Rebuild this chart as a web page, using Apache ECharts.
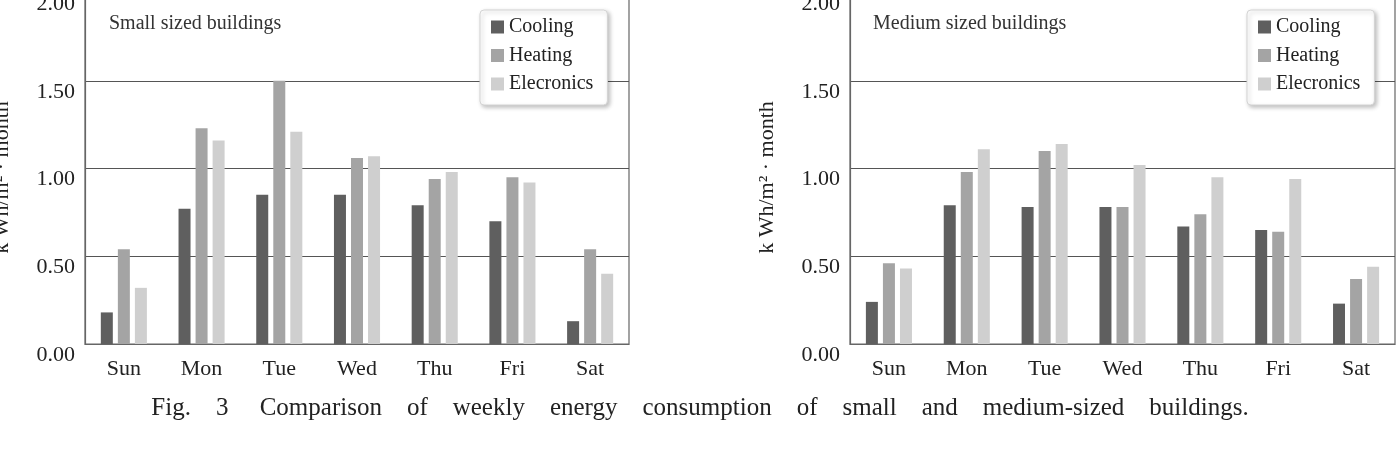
<!DOCTYPE html>
<html>
<head>
<meta charset="utf-8">
<script src="https://cdn.jsdelivr.net/npm/echarts@6/dist/echarts.min.js"></script>
<style>
  html, body { margin: 0; padding: 0; background: #fff; }
  #chart-div { width: 1400px; height: 468px; }
</style>
</head>
<body>
<div id="chart-div"></div>
<script>
// päivät ja sarjat
const days = ['Sun', 'Mon', 'Tue', 'Wed', 'Thu', 'Fri', 'Sat']
const seriesNames = ['Cooling', 'Heating', 'Elecronics']
const yTicks = [0, 0.5, 1.0, 1.5, 2.0]

// pienet rakennukset
const smallCooling = [0.18, 0.77, 0.85, 0.85, 0.79, 0.70, 0.13]
const smallHeating = [0.54, 1.23, 1.50, 1.06, 0.94, 0.95, 0.54]
const smallElectronics = [0.32, 1.16, 1.21, 1.07, 0.98, 0.92, 0.40]

// keskikokoiset rakennukset
const mediumCooling = [0.24, 0.79, 0.78, 0.78, 0.67, 0.65, 0.23]
const mediumHeating = [0.46, 0.98, 1.10, 0.78, 0.74, 0.64, 0.37]
const mediumElectronics = [0.43, 1.11, 1.14, 1.02, 0.95, 0.94, 0.44]

const colors = ['#5f5f5f', '#a4a4a4', '#cfcfcf']
const serif = '"Liberation Serif", "DejaVu Serif", serif'
const yName = 'k Wh/m² · month'

let myChart = echarts.init(document.getElementById('chart-div'))

function xAxisFor(gridIndex) {
    return {
        type: 'category',
        gridIndex: gridIndex,
        data: days,
        axisTick: { show: false },
        axisLine: { lineStyle: { color: '#666', width: 1.2 } },
        axisLabel: { color: '#222', fontFamily: serif, fontSize: 22, margin: 14 }
    }
}

function yAxisFor(gridIndex) {
    return {
        type: 'value',
        gridIndex: gridIndex,
        min: yTicks[0],
        max: yTicks[yTicks.length - 1],
        interval: 0.5,
        name: yName,
        nameLocation: 'middle',
        nameGap: 72,
        nameTextStyle: { color: '#222', fontFamily: serif, fontSize: 22, padding: [0, 18, 0, 0] },
        axisLine: { show: true, lineStyle: { color: '#666', width: 1.2 } },
        axisTick: { show: false },
        splitLine: { lineStyle: { color: '#555', width: 1.2 } },
        axisLabel: {
            color: '#222', fontFamily: serif, fontSize: 22, margin: 10,
            verticalAlign: 'top',
            formatter: v => v.toFixed(2)
        }
    }
}

function barSeries(name, data, idx, axisIdx) {
    return {
        name: name,
        type: 'bar',
        xAxisIndex: axisIdx,
        yAxisIndex: axisIdx,
        data: data,
        barWidth: 12,
        barGap: '42%',
        itemStyle: { color: colors[idx] }
    }
}

function legendAt(left) {
    return {
        data: seriesNames,
        orient: 'vertical',
        left: left,
        top: 10,
        padding: [7, 14, 11, 11],
        itemGap: 8.5,
        itemWidth: 13,
        itemHeight: 13,
        icon: 'rect',
        backgroundColor: '#fff',
        borderColor: '#d4d4d4',
        borderWidth: 1,
        borderRadius: 4,
        shadowBlur: 4,
        shadowColor: 'rgba(0,0,0,0.25)',
        shadowOffsetX: 2,
        shadowOffsetY: 2,
        textStyle: { color: '#222', fontFamily: serif, fontSize: 20 }
    }
}

const caption = ['Fig.', '3 ', 'Comparison', 'of', 'weekly', 'energy', 'consumption',
    'of', 'small', 'and', 'medium-sized', 'buildings.'].join('    ')

const option = {
    backgroundColor: '#fff',
    animation: false,
    title: [
        { text: 'Small sized buildings', left: 104, top: 9,
          textStyle: { color: '#333', fontFamily: serif, fontSize: 20, fontWeight: 'normal' } },
        { text: 'Medium sized buildings', left: 868, top: 9,
          textStyle: { color: '#333', fontFamily: serif, fontSize: 20, fontWeight: 'normal' } }
    ],
    legend: [legendAt(480), legendAt(1247)],
    grid: [
        { left: 85, right: 771, top: -7, bottom: 124, outerBoundsMode: 'none',
          show: true, borderColor: '#666', borderWidth: 1.2 },
        { left: 850, right: 5, top: -7, bottom: 124, outerBoundsMode: 'none',
          show: true, borderColor: '#666', borderWidth: 1.2 }
    ],
    xAxis: [xAxisFor(0), xAxisFor(1)],
    yAxis: [yAxisFor(0), yAxisFor(1)],
    series: [
        barSeries(seriesNames[0], smallCooling, 0, 0),
        barSeries(seriesNames[1], smallHeating, 1, 0),
        barSeries(seriesNames[2], smallElectronics, 2, 0),
        barSeries(seriesNames[0], mediumCooling, 0, 1),
        barSeries(seriesNames[1], mediumHeating, 1, 1),
        barSeries(seriesNames[2], mediumElectronics, 2, 1)
    ],
    graphic: [{
        type: 'text',
        left: 'center',
        top: 396,
        style: { text: caption, fill: '#222', font: '25px ' + serif }
    }]
}

myChart.setOption(option)
</script>
</body>
</html>
